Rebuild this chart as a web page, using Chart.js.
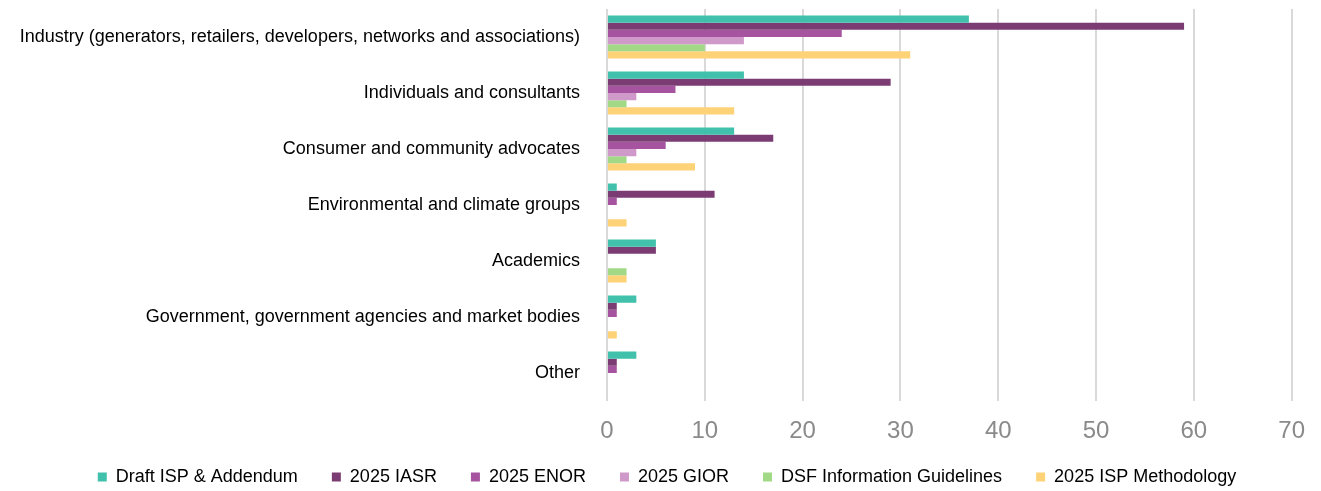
<!DOCTYPE html>
<html>
<head>
<meta charset="utf-8">
<script src="https://cdn.jsdelivr.net/npm/chart.js@4/dist/chart.umd.min.js"></script>
<style>
    html, body { margin: 0; padding: 0; background: #fff; }
    #wrap { width: 1321px; height: 491px; position: relative; }
</style>
</head>
<body>
<div id="wrap"><canvas id="chart"></canvas></div>
<script>
// Catégories et séries
const categories = [
    'Industry (generators, retailers, developers, networks and associations)',
    'Individuals and consultants',
    'Consumer and community advocates',
    'Environmental and climate groups',
    'Academics',
    'Government, government agencies and market bodies',
    'Other'
];
const seriesNames = [
    'Draft ISP & Addendum',
    '2025 IASR',
    '2025 ENOR',
    '2025 GIOR',
    'DSF Information Guidelines',
    '2025 ISP Methodology'
];
const draftIsp = [37, 14, 13, 1, 5, 3, 3];
const iasr = [59, 29, 17, 11, 5, 1, 1];
const enor = [24, 7, 6, 1, 0, 1, 1];
const gior = [14, 3, 3, 0, 0, 0, 0];
const dsf = [10, 2, 2, 0, 2, 0, 0];
const ispMethod = [31, 13, 9, 2, 2, 1, 0];
const xTicks = [0, 10, 20, 30, 40, 50, 60, 70];

const colors = ['#41C1AB', '#7B3C73', '#A6549F', '#CF9AC9', '#A2D986', '#FED276'];
const values = [draftIsp, iasr, enor, gior, dsf, ispMethod];
const FONT = 'Liberation Sans, Arial, sans-serif';

// L'axe x est volontairement bas : on élargit sa zone de clip pour ne pas couper les libellés
const layoutTweaks = {
    id: 'layoutTweaks',
    afterLayout(chart) {
        const legend = chart.legend;
        legend.left += 18;
        legend.right += 18;
    },
    beforeDraw(chart) {
        chart.scales.x.bottom = chart.height;
    }
};

const ctx = document.getElementById('chart');
const chart = new Chart(ctx, {
    type: 'bar',
    data: {
        labels: categories,
        datasets: values.map((data, i) => ({
            label: seriesNames[i],
            data: data,
            backgroundColor: colors[i],
            borderWidth: 0,
            categoryPercentage: 0.77,
            barPercentage: 1
        }))
    },
    options: {
        indexAxis: 'y',
        responsive: true,
        maintainAspectRatio: false,
        animation: false,
        layout: {
            padding: { top: 9, right: 23, left: 0, bottom: 0 }
        },
        plugins: {
            legend: {
                display: true,
                position: 'bottom',
                maxHeight: 57,
                labels: {
                    boxWidth: 9,
                    boxHeight: 9,
                    padding: 34,
                    color: '#000',
                    font: { family: FONT, size: 18 }
                }
            },
            tooltip: { enabled: false }
        },
        scales: {
            x: {
                min: 0,
                max: 70,
                afterBuildTicks: scale => {
                    scale.ticks = xTicks.map(v => ({ value: v }));
                },
                afterFit: scale => { scale.height = 33; },
                grid: { color: '#d9d9d9', lineWidth: 2, drawTicks: false },
                border: { display: false },
                ticks: {
                    color: '#8a8a8a',
                    padding: 16,
                    font: { family: FONT, size: 24 }
                }
            },
            y: {
                afterFit: scale => {
                    scale.width = 607;
                    scale.paddingTop = 0;
                    scale.paddingBottom = 0;
                },
                grid: { display: false },
                border: { display: false },
                ticks: {
                    color: '#000',
                    padding: 19,
                    font: { family: FONT, size: 18 }
                }
            }
        }
    },
    plugins: [layoutTweaks]
});
</script>
</body>
</html>
